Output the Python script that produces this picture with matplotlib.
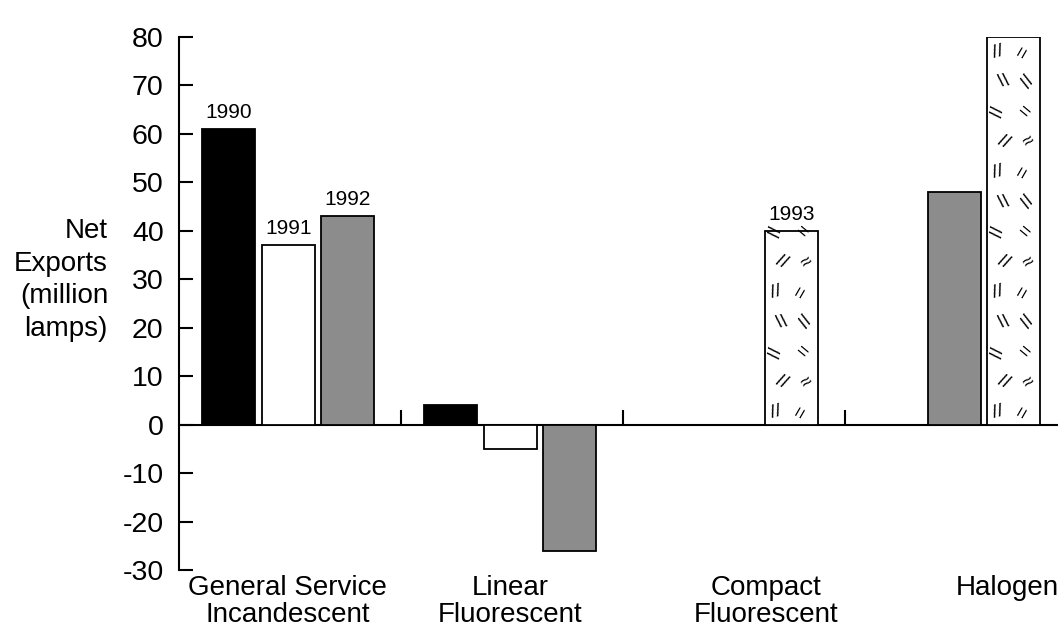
import matplotlib.pyplot as plt
import numpy

plt.rcParams["font.family"] = ["Liberation Sans", "DejaVu Sans"]
plt.rcParams["axes.unicode_minus"] = False

# %% Data (million lamps)
categories = [
    "General Service\nIncandescent",
    "Linear\nFluorescent",
    "Compact\nFluorescent",
    "Halogen",
]
years = ["1990", "1991", "1992", "1993"]
net_1990 = [61, 4, numpy.nan, numpy.nan]
net_1991 = [37, -5, numpy.nan, numpy.nan]
net_1992 = [43, -26, numpy.nan, 48]
net_1993 = [numpy.nan, numpy.nan, 40, 80]
series = [net_1990, net_1991, net_1992, net_1993]

# where each category label sits inside its group (group width = 1)
label_pos = [0.49, 1.49, 2.645, 3.73]

facecolors = {"1990": "black", "1991": "white", "1992": "#8c8c8c", "1993": "white"}

slot_center = 0.224
slot_step = 0.268
bar_width = 0.24


def scribble(ax, bar):
    # sparse scribbled texture inside the 1993 bars
    x0, y0 = bar.get_x(), bar.get_y()
    w, h = bar.get_width(), bar.get_height()
    glyphs = ["//", "=", "//", "\u2248", "//", "=", "\\\\", "//"]
    angles = [15, 60, -25, 35, 80, -40, 10, 55]
    k = 0
    for i, row in enumerate(numpy.arange(y0 + 2.5, y0 + h, 6.2)):
        for col in (0.25, 0.72):
            shift = 0.06 * w if i % 2 else -0.04 * w
            ax.text(
                x0 + col * w + shift,
                row,
                glyphs[k % len(glyphs)],
                rotation=angles[k % len(angles)],
                fontsize=14,
                ha="center",
                va="center",
                clip_on=True,
                clip_path=bar,
                zorder=4,
            )
            k += 1


fig = plt.figure(figsize=(10.58, 6.3), dpi=100)
ax = fig.add_axes([179 / 1058, 60 / 630, 879 / 1058, 533 / 630])

labelled = set()
for c in range(len(categories)):
    present = [j for j in range(len(years)) if not numpy.isnan(series[j][c])]
    for rank, j in enumerate(present):
        slot = 3 - len(present) + rank
        x = c + slot_center + slot * slot_step
        year = years[j]
        bars = ax.bar(
            x,
            series[j][c],
            width=bar_width,
            color=facecolors[year],
            edgecolor="black",
            linewidth=1.3,
            zorder=3,
        )
        if year == "1993":
            scribble(ax, bars[0])
        if year not in labelled:
            labelled.add(year)
            ax.annotate(
                year,
                (x, series[j][c]),
                xytext=(0, 5),
                textcoords="offset points",
                ha="center",
                va="bottom",
                fontsize=15,
            )

ax.set_xlim(0, 879 / 222)
ax.set_ylim(-30, 80)

ax.spines["top"].set_visible(False)
ax.spines["right"].set_visible(False)
ax.spines["bottom"].set_position(("data", 0))
ax.spines["bottom"].set_linewidth(1.5)
ax.spines["left"].set_linewidth(1.5)

ax.set_yticks(range(-30, 81, 10))
ax.tick_params(axis="y", direction="in", length=10, width=1.5, labelsize=20.5, pad=11)
ax.set_xticks([1, 2, 3])
ax.tick_params(axis="x", direction="in", length=11, width=1.5, labelbottom=False)

for pos, name in zip(label_pos, categories):
    ax.text(
        pos,
        -0.01,
        name,
        transform=ax.get_xaxis_transform(),
        ha="center",
        va="top",
        fontsize=20,
        linespacing=1.05,
        clip_on=False,
    )

fig.text(
    108 / 1058,
    1 - 280 / 630,
    "Net\nExports\n(million\nlamps)",
    ha="right",
    va="center",
    multialignment="right",
    fontsize=20,
    linespacing=1.32,
)

plt.savefig("out.png", dpi=100)
